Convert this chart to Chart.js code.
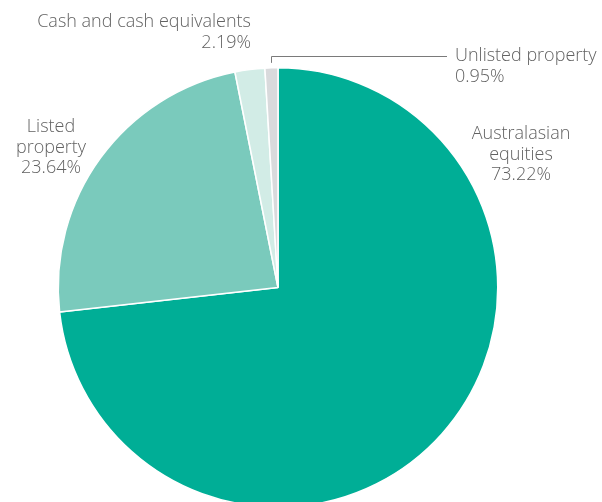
<!DOCTYPE html>
<html>
<head>
<meta charset="utf-8">
<script src="https://cdn.jsdelivr.net/npm/chart.js@4/dist/chart.umd.min.js"></script>
<style>
  html, body { margin: 0; padding: 0; background: #fff; overflow: hidden; }
  #wrap { position: relative; width: 602px; height: 520px; }
</style>
</head>
<body>
<div id="wrap"><canvas id="pie"></canvas></div>
<script>
// ---------- Data ----------
const categories = [
  "Australasian equities",
  "Listed property",
  "Cash and cash equivalents",
  "Unlisted property",
];
const values = [73.22, 23.64, 2.19, 0.95];
const sliceColors = ["#00ae96", "#7acabc", "#d2ece6", "#d9dadc"];

// label lines per slice (text only)
const labelLines = [
  ["Australasian", "equities", "73.22%"],
  ["Listed", "property", "23.64%"],
  ["Cash and cash equivalents", "2.19%"],
  ["Unlisted property", "0.95%"],
];

// ---------- Label placement (style) ----------
const labelStyle = [
  { x: 521, y: 134, align: "center" },
  { x: 51, y: 127, align: "center" },
  { x: 251, y: 22, align: "right" },
  { x: 455, y: 56, align: "left" },
];
const lineGap = 20.5;
const textColor = "#626262";

const outsideLabels = {
  id: "outsideLabels",
  afterDraw(chart) {
    const ctx = chart.ctx;
    const arcs = chart.getDatasetMeta(0).data;
    ctx.save();
    ctx.fillStyle = textColor;
    ctx.font = "300 18px 'Open Sans', sans-serif";
    ctx.textBaseline = "middle";
    labelLines.forEach((lines, i) => {
      const s = labelStyle[i];
      ctx.textAlign = s.align;
      lines.forEach((t, j) => ctx.fillText(t, s.x, s.y + j * lineGap));
    });

    // leader line for the small "Unlisted property" slice
    const a = arcs[3];
    const mid = (a.startAngle + a.endAngle) / 2;
    const r = a.outerRadius + 5;
    const px = a.x + Math.cos(mid) * r;
    const py = a.y + Math.sin(mid) * r;
    const s = labelStyle[3];
    ctx.strokeStyle = "#7a7a7a";
    ctx.lineWidth = 1;
    ctx.beginPath();
    ctx.moveTo(Math.round(px) + 0.5, py);
    ctx.lineTo(Math.round(px) + 0.5, s.y + 0.5);
    ctx.lineTo(s.x - 8, s.y + 0.5);
    ctx.stroke();
    ctx.restore();
  },
};

new Chart(document.getElementById("pie"), {
  type: "pie",
  data: {
    labels: categories,
    datasets: [
      {
        data: values,
        backgroundColor: sliceColors,
        borderColor: "#ffffff",
        borderWidth: 1.5,
      },
    ],
  },
  options: {
    responsive: true,
    maintainAspectRatio: false,
    animation: false,
    layout: { padding: { left: 57, right: 103, top: 67, bottom: 12 } },
    plugins: {
      legend: { display: false },
      tooltip: { enabled: false },
    },
  },
  plugins: [outsideLabels],
});
</script>
</body>
</html>
